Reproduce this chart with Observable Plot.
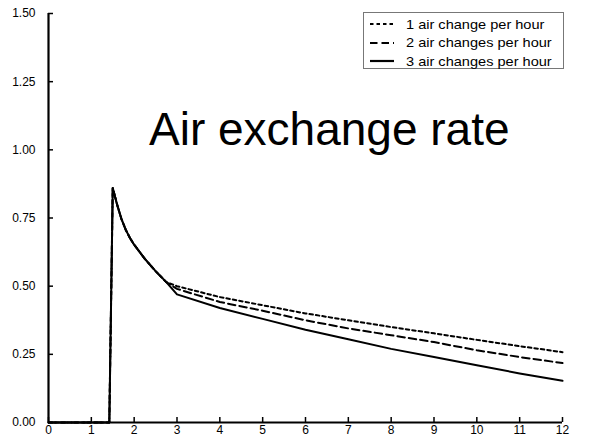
<!DOCTYPE html>
<html><head><meta charset="utf-8">
<script src="https://cdn.jsdelivr.net/npm/d3@7"></script>
<script src="https://cdn.jsdelivr.net/npm/@observablehq/plot@0.6"></script>
<style>
body{margin:0;background:#fff;}
#wrap{position:relative;width:615px;height:439px;font-family:"Liberation Sans",Arial,sans-serif;}
#title{position:absolute;left:149px;top:106px;font-size:46px;line-height:1;color:#000;white-space:nowrap;}
#legend{position:absolute;left:363px;top:12px;width:199px;height:55px;border:1px solid #777;background:#fff;}
.row{position:absolute;left:0;height:18px;display:flex;align-items:center;color:#000;white-space:nowrap;}
.row svg{margin-left:6px;margin-right:12px;}
.row span{display:inline-block;font-size:13px;transform:scaleX(1.12);transform-origin:left center;}
</style></head><body><div id="wrap"></div>
<script>
const seriesNames = ["1 air change per hour", "2 air changes per hour", "3 air changes per hour"];
const dashes = ["3.5,3", "7.5,4", null];
const xHead = [0, 1.42, 1.5, 1.6, 1.7, 1.8, 1.9, 2.0, 2.25, 2.5, 2.75];
const yHead = [0, 0, 0.86, 0.80, 0.748, 0.708, 0.677, 0.652, 0.60, 0.555, 0.515];
const xTail = [3, 4, 5, 6, 7, 8, 9, 10, 11, 12];
const oneACH = [0.50, 0.46, 0.43, 0.40, 0.375, 0.35, 0.327, 0.303, 0.28, 0.258];
const twoACH = [0.49, 0.442, 0.41, 0.375, 0.345, 0.32, 0.295, 0.265, 0.24, 0.218];
const threeACH = [0.47, 0.42, 0.38, 0.34, 0.305, 0.27, 0.24, 0.21, 0.18, 0.153];
const xTicks = [0, 1, 2, 3, 4, 5, 6, 7, 8, 9, 10, 11, 12];
const yTicks = [0, 0.25, 0.5, 0.75, 1.0, 1.25, 1.5];
const titleText = "Air exchange rate";

const tails = [oneACH, twoACH, threeACH];
const rows = [];
seriesNames.forEach((s, i) => {
  xHead.forEach((x, j) => rows.push({series: s, x, y: yHead[j]}));
  xTail.forEach((x, j) => rows.push({series: s, x, y: tails[i][j]}));
});

const font = "Liberation Sans, Arial, sans-serif";
const chart = Plot.plot({
  width: 615,
  height: 439,
  marginLeft: 48,
  marginRight: 53,
  marginTop: 13,
  marginBottom: 17,
  style: {fontFamily: font, background: "#fff", color: "#000"},
  x: {domain: [0, 12], label: null},
  y: {domain: [0, 1.5], label: null},
  marks: [
    Plot.axisX({ticks: xTicks, tickSize: 0, tickPadding: 3, fontSize: 12, label: null, tickFormat: d => d}),
    Plot.axisX({ticks: xTicks, tickSize: -5, strokeWidth: 1.5, label: null, tickFormat: () => ""}),
    Plot.axisY({ticks: yTicks, tickSize: 0, tickPadding: 13, fontSize: 12, label: null, tickFormat: d3.format(".2f")}),
    Plot.axisY({ticks: yTicks, tickSize: -5, strokeWidth: 1.5, label: null, tickFormat: () => ""}),
    Plot.ruleX([0], {y1: 0, y2: 1.5, strokeWidth: 2.2}),
    Plot.ruleY([0], {x1: 0, x2: 12, strokeWidth: 2.2}),
    ...seriesNames.map((s, i) => Plot.line(rows.filter(r => r.series === s), {
      x: "x", y: "y", stroke: "#000", strokeWidth: 2, curve: "linear",
      strokeDasharray: dashes[i]
    }))
  ]
});
const wrap = document.getElementById("wrap");
wrap.appendChild(chart);

const t = document.createElement("div");
t.id = "title";
t.textContent = titleText;
wrap.appendChild(t);

const leg = document.createElement("div");
leg.id = "legend";
seriesNames.forEach((s, i) => {
  const r = document.createElement("div");
  r.className = "row";
  r.style.top = (2 + i * 18.5) + "px";
  r.innerHTML = `<svg width="24" height="6"><line x1="0" x2="24" y1="3" y2="3" stroke="#000" stroke-width="2.2" ${dashes[i] ? `stroke-dasharray="${dashes[i]}"` : ""}/></svg><span>${s}</span>`;
  leg.appendChild(r);
});
wrap.appendChild(leg);
</script></body></html>
